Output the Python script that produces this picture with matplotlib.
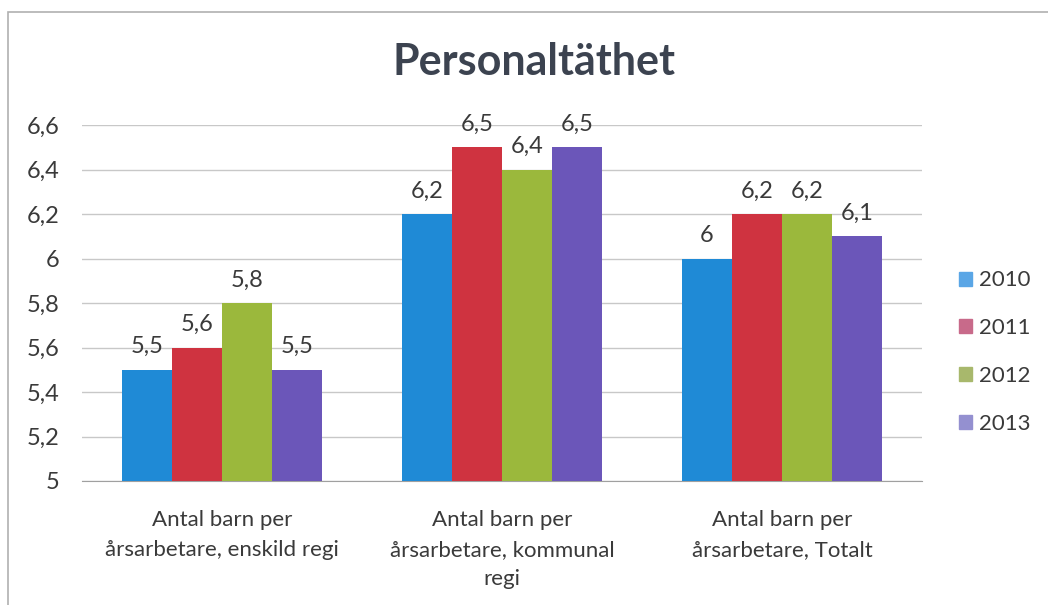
import matplotlib
matplotlib.use("Agg")
import matplotlib.pyplot as plt
import numpy as np
from matplotlib.patches import Rectangle

categories = ["Antal barn per\nårsarbetare, enskild regi",
              "Antal barn per\nårsarbetare, kommunal\nregi",
              "Antal barn per\nårsarbetare, Totalt"]
years = ["2010", "2011", "2012", "2013"]
values = {
    "2010": [5.5, 6.2, 6.0],
    "2011": [5.6, 6.5, 6.2],
    "2012": [5.8, 6.4, 6.2],
    "2013": [5.5, 6.5, 6.1],
}
yticks = [5, 5.2, 5.4, 5.6, 5.8, 6, 6.2, 6.4, 6.6]
colors = ["#1f8ad6", "#cf3340", "#9bb83c", "#6b56b9"]
legend_colors = ["#5aa6e6", "#c86a8a", "#a8b86c", "#9490d0"]

plt.rcParams['font.family'] = ['Lato', 'DejaVu Sans']
text_color = "#3a3a3a"

fig = plt.figure(figsize=(10.48, 6.05), dpi=100)
fig.patch.set_facecolor("white")
ax = fig.add_axes([0.0783, 0.205, 0.8015, 0.588])

def fmt(v):
    s = f"{v:.1f}".replace(".", ",")
    if s.endswith(",0"):
        s = s[:-2]
    return s

x = np.arange(len(categories))
w = 0.179
for i, yr in enumerate(years):
    pos = x + (i - 1.5) * w
    bars = ax.bar(pos, [v - 5 for v in values[yr]], bottom=5, width=w,
                  color=colors[i], zorder=3, label=yr)
    for b, v in zip(bars, values[yr]):
        ax.annotate(fmt(v), (b.get_x() + b.get_width() / 2, v),
                    xytext=(0, 9), textcoords="offset points",
                    ha="center", va="bottom", fontsize=17, color=text_color)

ax.set_xlim(-0.5, 2.5)
ax.set_ylim(5, 6.6)
ax.set_yticks(yticks)
ax.set_yticklabels([fmt(t) for t in yticks], fontsize=17, color=text_color)
ax.set_xticks(x)
ax.set_xticklabels(categories, fontsize=16, color=text_color, linespacing=1.6)
ax.tick_params(axis="x", length=0, pad=21)
ax.tick_params(axis="y", length=0, pad=16)
ax.grid(axis="y", color="#c8c8c8", linewidth=1, zorder=0)
for s in ["top", "right", "left"]:
    ax.spines[s].set_visible(False)
ax.spines["bottom"].set_color("#a0a0a0")

handles = [Rectangle((0, 0), 1, 1, color=c) for c in legend_colors]
leg = fig.legend(handles, years, loc="center left", bbox_to_anchor=(0.9, 0.418),
                 frameon=False, fontsize=16, handlelength=0.6, handleheight=0.6,
                 handletextpad=0.3, labelspacing=1.25, borderpad=0.2)
for t in leg.get_texts():
    t.set_color(text_color)

fig.text(0.51, 0.897, "Personaltäthet", ha="center", va="center",
         fontsize=31, fontweight="bold", color="#3c4350")

fig.add_artist(Rectangle((0.008, -0.01), 1.2, 0.99, transform=fig.transFigure,
                         fill=False, edgecolor="#b0b0b0", linewidth=1.2))

fig.savefig("out.png", dpi=100, facecolor="white")
